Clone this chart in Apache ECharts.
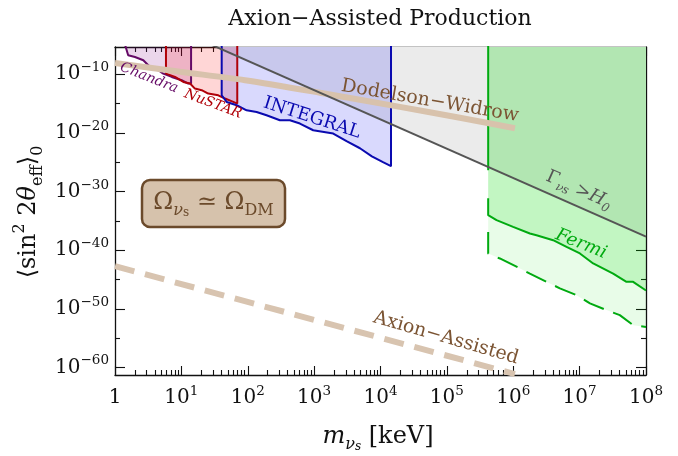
<!DOCTYPE html>
<html><head><meta charset="utf-8">
<script src="https://cdn.jsdelivr.net/npm/echarts@6/dist/echarts.min.js"></script>
<style>html,body{margin:0;padding:0;background:#fff}#c{width:678px;height:456px}</style>
</head><body><div id="c"></div>
<script>
// ---- data (mass in keV, mixing <sin^2 2theta>) ----
const xTickExp = [0,1,2,3,4,5,6,7,8];
const yTickExp = [-60,-50,-40,-30,-20,-10];
const yMinorExp = [-55,-45,-35,-25,-15];

const gammaM = [25, 1e8];
const gammaS = [2.0e-5, 2.0e-38];

const chandraM = [1.42,1.58,2.0,2.67,3.17,4.49,5.33,7.14,10.1,12.7,14.0,14.0];
const chandraS = [1e-5,1.7e-7,8.9e-8,2.5e-8,3.4e-9,4.8e-10,1.3e-10,3.5e-11,9.5e-12,2.6e-12,2.6e-12,1e-5];

const nustarM = [5.86,5.86,8.02,10.7,13.5,16.0,20.2,25.4,36.0,45.4,60.5,69.5,69.5];
const nustarS = [1e-5,1.3e-10,3.5e-11,4.9e-12,2.6e-12,3.6e-13,1.9e-13,5.1e-14,2.6e-14,7.2e-15,1.9e-15,1.0e-15,1e-5];

const integralM = [40.5,40.5,48.1,68.1,96.2,136,192,305,432,611,968,1940,3080,4900,7410,10900,14400,14400];
const integralS = [1e-5,2.6e-14,1.9e-15,5.2e-16,7.2e-17,3.7e-17,1.0e-17,1.4e-18,1.4e-18,3.9e-19,2.8e-20,7.8e-21,3.8e-22,2.4e-23,1.0e-24,1.0e-25,2.1e-26,1e-5];

const fermiEdgeM = [4.19e5,4.19e5];
const fermiEdgeS = [1e-5,4.3e-27];
const fermiM = [4.19e5,4.19e5,5.6e5,9.95e5,1.78e6,2.24e6,3.99e6,6.35e6,1.01e7,1.6e7,3.2e7,5.08e7,6.4e7,1e8];
const fermiS = [7.2e-32,9.1e-35,1.3e-35,9.3e-37,6.9e-38,3.5e-38,5.0e-39,3.6e-40,2.7e-41,5.4e-43,1.0e-44,3.9e-46,3.9e-46,1.3e-47];

const fermiProjM = [4.19e5,4.19e5,6.28e5,1.26e6,1.78e6,3.56e6,5.04e6,8.97e6,1.43e7,2.54e7,4.03e7,6.4e7,1e8];
const fermiProjS = [1.3e-37,2.7e-41,3.8e-42,7.6e-44,1.0e-44,2.1e-46,3.0e-47,2.1e-48,8.1e-50,5.9e-51,8.3e-52,1.6e-53,7.9e-54];

const dwM = [1,9.53,90.8,1222,19600,1.57e5,1.06e6];
const dwS = [8.5e-9,2.7e-10,9.5e-12,7.1e-14,2.7e-16,3.8e-18,6.2e-20];

const axionM = [1,1.06e6];
const axionS = [1.86e-43,7.2e-62];

// ---- helpers ----
const L = Math.log10;
const pts = (m,s) => m.map((v,i)=>[L(v),L(s[i])]);
const xMinor = [];
for (let n=0;n<8;n++) for (let k=2;k<=9;k++) xMinor.push(n+L(k));

const FONT = 'DejaVu Serif';
const richTick = {
  b:{fontSize:20,fontFamily:FONT,color:'#111',lineHeight:27},
  s:{fontSize:13.5,fontFamily:FONT,color:'#111',verticalAlign:'top',lineHeight:14}
};
const Y_MIN = -61.3, Y_MAX = -5.35;

function xAx(pos, major, labels){
  return {type:'value',min:0,max:8,position:pos,gridIndex:0,
    axisLine:{show:major,onZero:false,lineStyle:{color:'#111',width:1.3}},
    splitLine:{show:false},
    axisTick:{show:true,inside:false,length:major?-9:-5,customValues:major?xTickExp:xMinor,lineStyle:{color:'#111',width:1.1}},
    axisLabel:{show:labels,customValues:xTickExp,margin:9,
      formatter:v=>{v=Math.round(v);return v===0?'{b|1}':'{b|10}{s|'+v+'}';},rich:richTick}
  };
}
function yAx(pos, major, labels){
  return {type:'value',min:Y_MIN,max:Y_MAX,position:pos,gridIndex:0,
    axisLine:{show:major,onZero:false,lineStyle:{color:'#111',width:1.3}},
    splitLine:{show:false},
    axisTick:{show:true,inside:false,length:major?-10:-5,customValues:major?yTickExp:yMinorExp,lineStyle:{color:'#111',width:1.1}},
    axisLabel:{show:labels,customValues:yTickExp,margin:6,
      formatter:v=>'{b|10}{s|−'+Math.abs(Math.round(v))+'}',rich:richTick}
  };
}

function region(name,m,s,stroke,fill,z){
  return {name,type:'line',data:pts(m,s),symbol:'none',clip:true,z:z||2,
    lineStyle:{color:stroke,width:2},areaStyle:{origin:'end',color:fill,opacity:1},animation:false};
}

const chart = echarts.init(document.getElementById('c'),null,{renderer:'canvas'});
chart.setOption({
  animation:false,
  backgroundColor:'#fff',
  grid:{left:115,right:32,top:47,bottom:81,containLabel:false},
  xAxis:[xAx('bottom',true,true),xAx('bottom',false,false),xAx('top',true,false),xAx('top',false,false)],
  yAxis:[yAx('left',true,true),yAx('left',false,false),yAx('right',true,false),yAx('right',false,false)],
  series:[
    {name:'gray',type:'line',data:pts(gammaM,gammaS),symbol:'none',clip:true,z:1,
      lineStyle:{width:0},areaStyle:{origin:'end',color:'#ebebeb',opacity:1}},
    region('Chandra',chandraM,chandraS,'#650a66','rgba(128,0,128,0.16)'),
    region('NuSTAR',nustarM,nustarS,'#b00008','rgba(255,0,0,0.16)'),
    region('INTEGRAL',integralM,integralS,'#0a0ab0','rgba(20,20,245,0.16)'),
    {name:'FermiProj',type:'line',data:pts(fermiProjM,fermiProjS),symbol:'none',clip:true,z:2,
      lineStyle:{color:'#00aa10',width:2,type:[22,10]},areaStyle:{origin:'end',color:'rgba(0,220,0,0.09)',opacity:1}},
    region('Fermi',fermiM,fermiS,'#00aa10','rgba(0,220,0,0.16)'),
    {name:'FermiEdge',type:'line',data:pts(fermiEdgeM,fermiEdgeS),symbol:'none',clip:true,z:2,
      lineStyle:{color:'#00aa10',width:2}},
    {name:'DW',type:'line',data:pts(dwM,dwS),symbol:'none',smooth:0.3,clip:true,z:3,
      lineStyle:{color:'#d8c2ac',width:6,cap:'butt'}},
    {name:'Axion',type:'line',data:pts(axionM,axionS),symbol:'none',clip:true,z:3,
      lineStyle:{color:'#d8c4b0',width:6,type:[20,11],cap:'butt'}},
    {name:'Gamma',type:'line',data:pts(gammaM,gammaS),symbol:'none',clip:true,z:4,
      lineStyle:{color:'#555',width:2}}
  ],
  graphic:[
    {type:'text',x:380,y:19,style:{text:'Axion−Assisted Production',font:'22px "DejaVu Serif"',fill:'#111',align:'center',verticalAlign:'middle'}},
    {type:'text',x:29,y:212,rotation:Math.PI/2,style:{
      text:'{b|⟨sin}{p|2}{b| 2}{i|θ}{d|eff}{b|⟩}{d|0}',align:'center',verticalAlign:'middle',
      rich:{b:{fontSize:24,fontFamily:FONT,fill:'#111',lineHeight:34},
            i:{fontSize:24,fontFamily:FONT,fontStyle:'italic',fill:'#111',lineHeight:34},
            p:{fontSize:16,fontFamily:FONT,fill:'#111',verticalAlign:'top',lineHeight:16},
            d:{fontSize:16,fontFamily:FONT,fill:'#111',verticalAlign:'bottom',lineHeight:16}}}},
    {type:'text',x:378,y:437,style:{
      text:'{i|m}{d|ν}{e|s}{b| [keV]}',align:'center',verticalAlign:'middle',
      rich:{b:{fontSize:24,fontFamily:FONT,fill:'#111',lineHeight:32},
            i:{fontSize:24,fontFamily:FONT,fontStyle:'italic',fill:'#111',lineHeight:32},
            d:{fontSize:16,fontFamily:FONT,fontStyle:'italic',fill:'#111',verticalAlign:'bottom',lineHeight:18},
            e:{fontSize:12,fontFamily:FONT,fontStyle:'italic',fill:'#111',verticalAlign:'bottom',lineHeight:13}}}},
    {type:'rect',shape:{x:142,y:180,width:143,height:47,r:8},style:{fill:'#d6c2ac',stroke:'#6b4a2b',lineWidth:2.5},z:10},
    {type:'text',x:213.5,y:203,z:11,style:{
      text:'{a|Ω}{d|ν}{e|s}{a| ≃ Ω}{f|DM}',align:'center',verticalAlign:'middle',
      rich:{a:{fontSize:24,fontFamily:FONT,fill:'#6b4a2b',lineHeight:32},
            d:{fontSize:16,fontFamily:FONT,fontStyle:'italic',fill:'#6b4a2b',verticalAlign:'bottom',lineHeight:20},
            e:{fontSize:12,fontFamily:FONT,fill:'#6b4a2b',verticalAlign:'bottom',lineHeight:14},
            f:{fontSize:16,fontFamily:FONT,fill:'#6b4a2b',verticalAlign:'bottom',lineHeight:20}}}},
    {type:'text',x:430,y:101,rotation:-0.17,z:12,style:{text:'Dodelson−Widrow',font:'19px "DejaVu Serif"',fill:'#7b5433',align:'center',verticalAlign:'middle'}},
    {type:'text',x:312,y:118,rotation:-0.31,z:12,style:{text:'INTEGRAL',font:'18px "DejaVu Serif"',fill:'#0a0ab0',align:'center',verticalAlign:'middle'}},
    {type:'text',x:149,y:78,rotation:-0.38,z:12,style:{text:'Chandra',font:'italic 14px "DejaVu Serif"',fill:'#650a66',align:'center',verticalAlign:'middle'}},
    {type:'text',x:213,y:104,rotation:-0.36,z:12,style:{text:'NuSTAR',font:'italic 14px "DejaVu Serif"',fill:'#b00008',align:'center',verticalAlign:'middle'}},
    {type:'text',x:579,y:190,rotation:-0.42,z:12,style:{
      text:'{a|Γ}{d|νs}{a| >}{i|H}{d|0}',align:'center',verticalAlign:'middle',
      rich:{a:{fontSize:18,fontFamily:FONT,fill:'#555',lineHeight:24},
            i:{fontSize:18,fontFamily:FONT,fontStyle:'italic',fill:'#555',lineHeight:24},
            d:{fontSize:12,fontFamily:FONT,fontStyle:'italic',fill:'#555',verticalAlign:'bottom',lineHeight:14}}}},
    {type:'text',x:581,y:244,rotation:-0.38,z:12,style:{text:'Fermi',font:'italic 18px "DejaVu Serif"',fill:'#00aa10',align:'center',verticalAlign:'middle'}},
    {type:'text',x:446,y:338,rotation:-0.28,z:12,style:{text:'Axion−Assisted',font:'19px "DejaVu Serif"',fill:'#7b5433',align:'center',verticalAlign:'middle'}}
  ]
});
</script></body></html>
